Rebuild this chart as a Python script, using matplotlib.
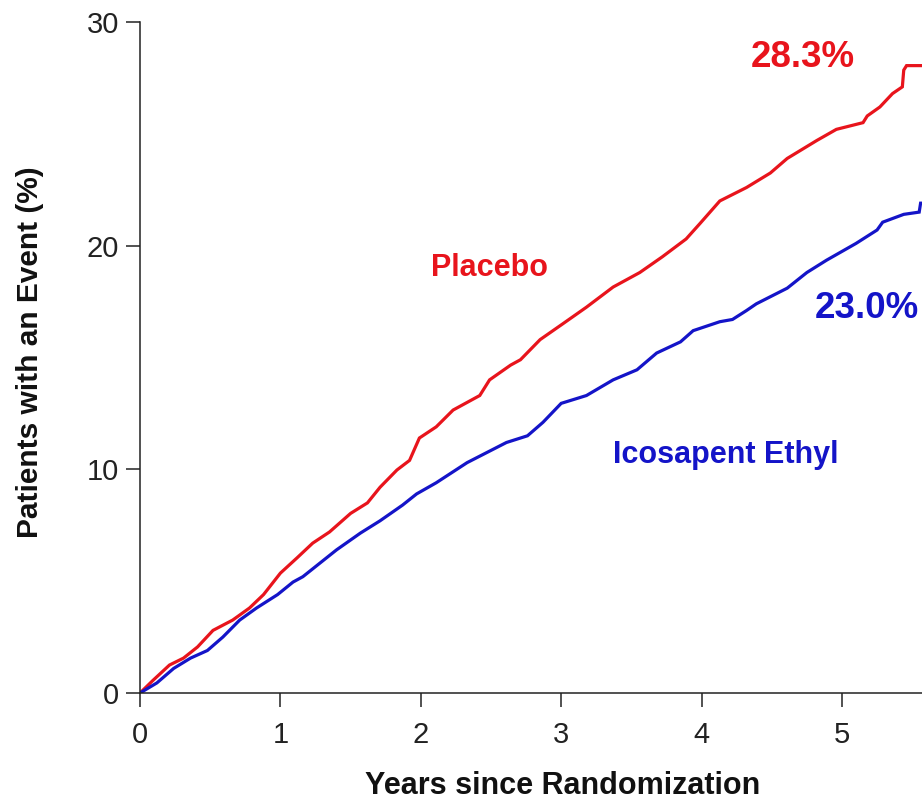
import matplotlib
matplotlib.use("Agg")
import matplotlib.pyplot as plt

# Cumulative incidence (%) by years since randomization
placebo_years = [0, 0.09, 0.21, 0.31, 0.41, 0.52, 0.66, 0.78, 0.88, 1.0, 1.12, 1.23, 1.35,
                 1.50, 1.62, 1.71, 1.83, 1.92, 1.99, 2.11, 2.23, 2.42, 2.49, 2.64, 2.71,
                 2.85, 3.01, 3.18, 3.37, 3.56, 3.72, 3.89, 3.99, 4.13, 4.32, 4.49, 4.61,
                 4.82, 4.96, 5.15, 5.18, 5.27, 5.36, 5.43, 5.44, 5.46, 5.60]
placebo_pct = [0, 0.55, 1.25, 1.56, 2.06, 2.8, 3.26, 3.8, 4.4, 5.36, 6.05, 6.7, 7.2,
               8.03, 8.5, 9.2, 9.97, 10.4, 11.4, 11.9, 12.65, 13.3, 14.0, 14.66, 14.9,
               15.8, 16.5, 17.25, 18.15, 18.8, 19.5, 20.3, 21.0, 22.0, 22.6, 23.25, 23.9,
               24.7, 25.2, 25.5, 25.8, 26.2, 26.8, 27.1, 27.85, 28.05, 28.05]

ipe_years = [0, 0.12, 0.24, 0.36, 0.48, 0.59, 0.71, 0.83, 0.98, 1.09, 1.16, 1.28, 1.40,
             1.57, 1.71, 1.87, 1.97, 2.11, 2.33, 2.61, 2.76, 2.87, 3.0, 3.18, 3.37,
             3.54, 3.68, 3.85, 3.94, 4.13, 4.22, 4.32, 4.39, 4.61, 4.75, 4.89, 5.10,
             5.25, 5.29, 5.44, 5.55, 5.56, 5.60]
ipe_pct = [0, 0.45, 1.1, 1.56, 1.9, 2.5, 3.26, 3.8, 4.4, 4.96, 5.2, 5.8, 6.4,
           7.15, 7.7, 8.4, 8.9, 9.4, 10.3, 11.2, 11.5, 12.1, 12.95, 13.3, 14.0,
           14.45, 15.2, 15.7, 16.2, 16.6, 16.7, 17.1, 17.4, 18.1, 18.8, 19.35, 20.1,
           20.7, 21.05, 21.4, 21.5, 21.9, 21.9]

x_ticks = [0, 1, 2, 3, 4, 5]
y_ticks = [0, 10, 20, 30]

placebo_label = "Placebo"
ipe_label = "Icosapent Ethyl"
placebo_final = "28.3%"
ipe_final = "23.0%"

RED = "#e8141c"
BLUE = "#1414c8"

plt.rcParams["font.family"] = ["Liberation Sans", "DejaVu Sans"]

W, H = 922, 801
fig = plt.figure(figsize=(W / 100, H / 100), dpi=100)
ax = fig.add_axes([140 / W, 1 - 693 / H, (W - 140) / W, (693 - 22) / H])

ax.plot(placebo_years, placebo_pct, color=RED, lw=2.3, solid_joinstyle="miter")
ax.plot(ipe_years, ipe_pct, color=BLUE, lw=2.3, solid_joinstyle="miter")

ax.set_xlim(0, 5.57)
ax.set_ylim(0, 30)
ax.set_xticks(x_ticks)
ax.set_yticks(y_ticks)

for side in ("top", "right"):
    ax.spines[side].set_visible(False)
for side in ("left", "bottom"):
    ax.spines[side].set_linewidth(1.1)
    ax.spines[side].set_color("#222222")

ax.tick_params(axis="both", direction="out", length=10, width=1.1,
               colors="#222222", labelsize=21)
ax.tick_params(axis="x", pad=10)
ax.tick_params(axis="y", pad=5)

fig.text(30 / W, 1 - 352 / H, "Patients with an Event (%)", rotation=90,
         ha="center", va="center", fontsize=21.5, fontweight="bold", color="#111111")
fig.text(563 / W, 1 - 786 / H, "Years since Randomization",
         ha="center", va="center", fontsize=22, fontweight="bold", color="#111111")

ax.text(2.49, 19.0, placebo_label, color=RED, fontsize=22, fontweight="bold",
        ha="center", va="center")
ax.text(4.17, 10.64, ipe_label, color=BLUE, fontsize=22, fontweight="bold",
        ha="center", va="center")
ax.text(4.72, 28.43, placebo_final, color=RED, fontsize=26.5, fontweight="bold",
        ha="center", va="center", clip_on=False)
ax.text(5.55, 17.2, ipe_final, color=BLUE, fontsize=26.5, fontweight="bold",
        ha="right", va="center", clip_on=False)

fig.savefig("out.png", dpi=100)
